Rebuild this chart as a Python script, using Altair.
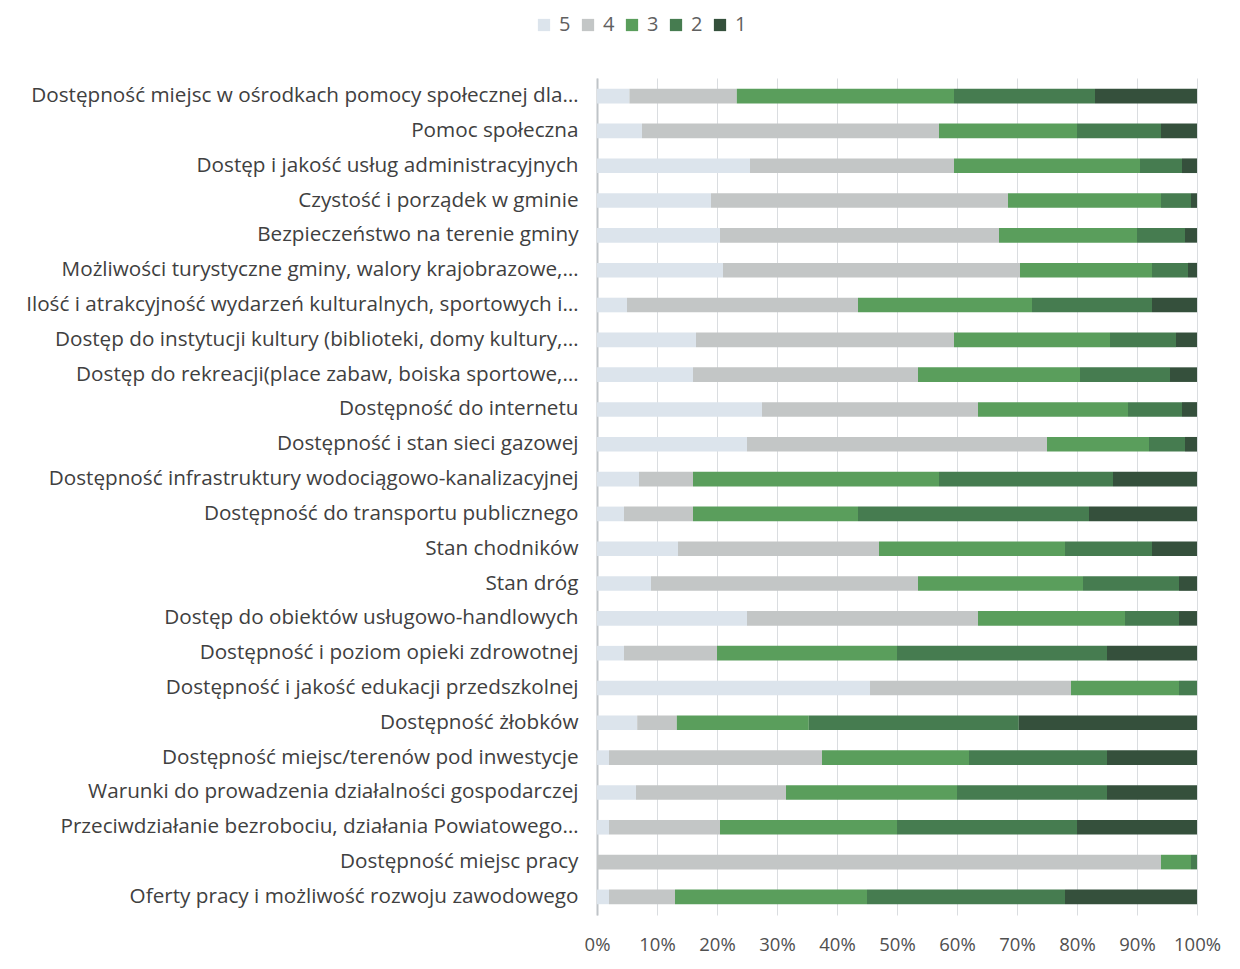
import altair as alt
import pandas as pd

categories = [
    "Dostępność miejsc w ośrodkach pomocy społecznej dla…",
    "Pomoc społeczna",
    "Dostęp i jakość usług administracyjnych",
    "Czystość i porządek w gminie",
    "Bezpieczeństwo na terenie gminy",
    "Możliwości turystyczne gminy, walory krajobrazowe,…",
    "Ilość i atrakcyjność wydarzeń kulturalnych, sportowych i…",
    "Dostęp do instytucji kultury (biblioteki, domy kultury,…",
    "Dostęp do rekreacji(place zabaw, boiska sportowe,…",
    "Dostępność do internetu",
    "Dostępność i stan sieci gazowej",
    "Dostępność infrastruktury wodociągowo-kanalizacyjnej",
    "Dostępność do transportu publicznego",
    "Stan chodników",
    "Stan dróg",
    "Dostęp do obiektów usługowo-handlowych",
    "Dostępność i poziom opieki zdrowotnej",
    "Dostępność i jakość edukacji przedszkolnej",
    "Dostępność żłobków",
    "Dostępność miejsc/terenów pod inwestycje",
    "Warunki do prowadzenia działalności gospodarczej",
    "Przeciwdziałanie bezrobociu, działania Powiatowego…",
    "Dostępność miejsc pracy",
    "Oferty pracy i możliwość rozwoju zawodowego",
]

s5 = [5.4, 7.5, 25.5, 19, 20.5, 21, 5, 16.5, 16, 27.5, 25, 7, 4.5, 13.5, 9, 25, 4.5, 45.5, 6.7, 2, 6.5, 2, 0, 2]
s4 = [17.9, 49.5, 34, 49.5, 46.5, 49.5, 38.5, 43, 37.5, 36, 50, 9, 11.5, 33.5, 44.5, 38.5, 15.5, 33.5, 6.6, 35.5, 25, 18.5, 94, 11]
s3 = [36.2, 23, 31, 25.5, 23, 22, 29, 26, 27, 25, 17, 41, 27.5, 31, 27.5, 24.5, 30, 18, 22, 24.5, 28.5, 29.5, 5, 32]
s2 = [23.5, 14, 7, 5, 8, 6, 20, 11, 15, 9, 6, 29, 38.5, 14.5, 16, 9, 35, 3, 35, 23, 25, 30, 1, 33]
s1 = [17, 6, 2.5, 1, 2, 1.5, 7.5, 3.5, 4.5, 2.5, 2, 14, 18, 7.5, 3, 3, 15, 0, 29.7, 15, 15, 20, 0, 22]

series_names = ["5", "4", "3", "2", "1"]
series_values = [s5, s4, s3, s2, s1]
series_colors = ["#dce4ec", "#c3c6c6", "#5a9e5c", "#467c50", "#35503c"]

rows = []
for order, (name, vals) in enumerate(zip(series_names, series_values)):
    for cat, v in zip(categories, vals):
        rows.append({"kategoria": cat, "ocena": name, "wartosc": v, "kolej": order})
df = pd.DataFrame(rows)

font = "Open Sans"

chart = alt.Chart(df).mark_bar().encode(
    y=alt.Y(
        "kategoria:N",
        sort=categories,
        title=None,
        scale=alt.Scale(paddingInner=0.58, paddingOuter=0.31),
        axis=alt.Axis(
            labelFont=font,
            labelFontSize=20.7,
            labelColor="#404040",
            labelPadding=19,
            labelLimit=700,
            ticks=False,
            domain=True,
            domainColor="#bfc4c8",
            domainWidth=2,
        ),
    ),
    x=alt.X(
        "wartosc:Q",
        stack="normalize",
        title=None,
        scale=alt.Scale(domain=[0, 1], nice=False),
        axis=alt.Axis(
            format="%",
            values=[i / 10 for i in range(11)],
            labelFont=font,
            labelFontSize=18.5,
            labelColor="#505050",
            labelPadding=20,
            labelOverlap=False,
            labelFlush=False,
            ticks=False,
            domain=False,
            grid=True,
            gridColor="#dadde0",
            gridWidth=1,
        ),
    ),
    color=alt.Color(
        "ocena:N",
        scale=alt.Scale(domain=series_names, range=series_colors),
        title=None,
        legend=alt.Legend(
            orient="none",
            direction="horizontal",
            legendX=-63,
            legendY=-63,
            symbolType="square",
            symbolSize=150,
            symbolStrokeWidth=0,
            labelFont=font,
            labelFontSize=20,
            labelColor="#606060",
            columnPadding=7,
            labelOffset=5,
        ),
    ),
    order=alt.Order("kolej:Q"),
).properties(
    width=600,
    height=837,
    autosize=alt.AutoSizeParams(type="none"),
    padding={"left": 589, "top": 70, "right": 30, "bottom": 50},
).configure(background="white").configure_view(stroke=None)

chart.save("out.html", embed_options={"renderer": "svg", "actions": False})
